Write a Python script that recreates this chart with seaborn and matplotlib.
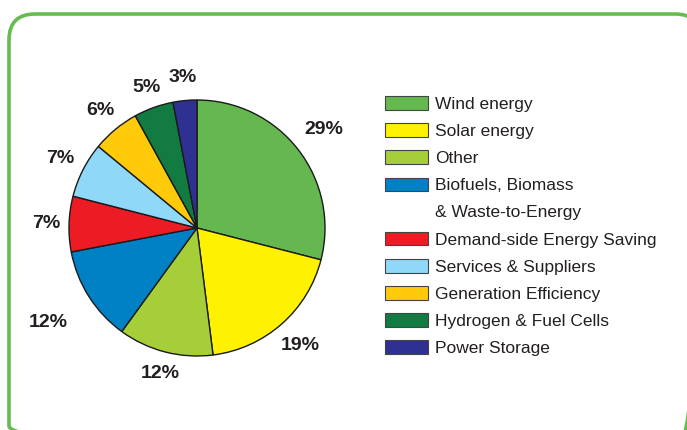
import matplotlib
matplotlib.use("Agg")
import numpy as np
import matplotlib.pyplot as plt
import seaborn as sns
from matplotlib.patches import FancyBboxPatch, Patch

categories = ["Wind energy", "Solar energy", "Other",
              "Biofuels, Biomass", "Demand-side Energy Saving",
              "Services & Suppliers", "Generation Efficiency",
              "Hydrogen & Fuel Cells", "Power Storage"]
shares = [29, 19, 12, 12, 7, 7, 6, 5, 3]
colors = ["#65b84f", "#fff200", "#a6ce39", "#0081c6", "#ed1c24",
          "#8fd8f8", "#ffca0a", "#117b41", "#2e3192"]
extra_line = "& Waste-to-Energy"
# how far out each percentage label sits (in pie radii)
label_dist = [1.25, 1.22, 1.17, 1.38, 1.18, 1.20, 1.19, 1.17, 1.18]

sns.set_style("white")
plt.rcParams["font.family"] = ["Liberation Sans", "DejaVu Sans"]
txt = "#231f20"

fig = plt.figure(figsize=(6.87, 4.30), dpi=100)

# background frame (pixel coords)
bg = fig.add_axes([0, 0, 1, 1])
bg.set_xlim(0, 687)
bg.set_ylim(430, 0)
bg.axis("off")
bg.add_patch(FancyBboxPatch((9, 14), 692, 438, boxstyle="round,pad=0,rounding_size=26",
                            fill=False, edgecolor="#66bd4f", linewidth=2.6))

# pie
cx, cy, r = 197, 228, 128
ax = fig.add_axes([(cx - r) / 687, (430 - cy - r) / 430, 2 * r / 687, 2 * r / 430])
wedges, _ = ax.pie(shares, colors=colors, startangle=90, counterclock=False,
                   wedgeprops=dict(edgecolor="#1a1a1a", linewidth=1.0))
for w, s, d in zip(wedges, shares, label_dist):
    ang = np.deg2rad((w.theta1 + w.theta2) / 2)
    ax.text(d * np.cos(ang), d * np.sin(ang), f"{s}%", ha="center", va="center",
            fontsize=14, fontweight="bold", color=txt, clip_on=False)
ax.set_xlim(-1, 1)
ax.set_ylim(-1, 1)
ax.set_aspect("equal")

# legend, with the second line of the biofuels label as its own row
handles = []
labels = []
for i, (c, lab) in enumerate(zip(colors, categories)):
    handles.append(Patch(facecolor=c, edgecolor="#444444", linewidth=0.8))
    labels.append(lab)
    if i == 3:
        handles.append(Patch(facecolor="none", edgecolor="none"))
        labels.append(extra_line)
fig.legend(handles, labels, loc="upper left", bbox_to_anchor=(0.55, 0.792),
           frameon=False, fontsize=12.5, labelcolor=txt,
           handlelength=2.5, handleheight=0.85, handletextpad=0.4,
           labelspacing=0.64, borderaxespad=0)

fig.savefig("out.png", dpi=100)
